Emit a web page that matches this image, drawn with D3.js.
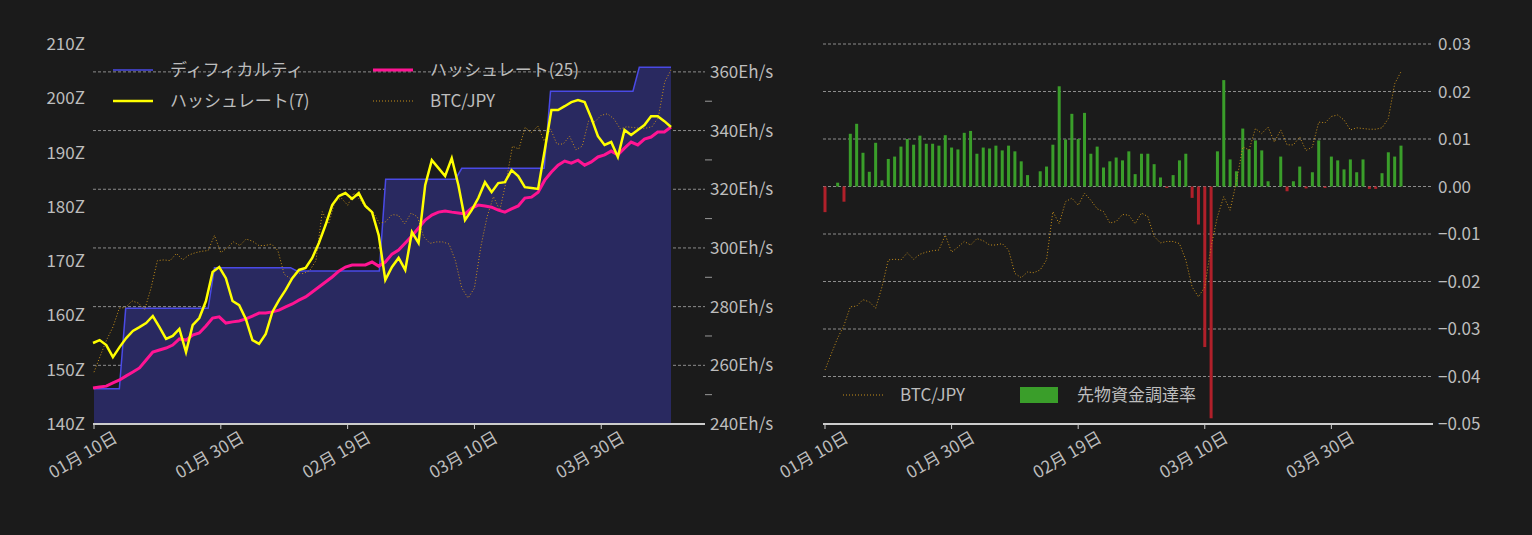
<!DOCTYPE html><html><head><meta charset="utf-8">
<script src="https://cdn.jsdelivr.net/npm/d3@7/dist/d3.min.js"></script>
<style>body{margin:0;background:#1b1b1b}text{font-family:"Noto Sans CJK JP","Noto Sans",sans-serif}</style></head><body>
<svg id="c" width="1532" height="535"></svg>
<script>
const xTickLabels=["01月 10日","01月 30日","02月 19日","03月 10日","03月 30日"];
const xTickDates=["2024-01-10","2024-01-30","2024-02-19","2024-03-10","2024-03-30"];
const startDate="2024-01-10", endDate="2024-04-10";
const diffDates=["2024-01-10","2024-01-14","2024-01-15","2024-01-28","2024-01-29","2024-02-10","2024-02-11","2024-02-24","2024-02-25","2024-03-07","2024-03-08","2024-03-21","2024-03-22","2024-04-04","2024-04-05","2024-04-10"];
const difficulty=[146.5,146.5,161.3,161.3,168.8,168.8,168.2,168.2,185.1,185.1,187.1,187.1,201.3,201.3,205.7,205.7];
const hash7=[267.6,268.6,266.9,262.8,266.2,269.3,271.7,273.0,274.4,276.8,273.0,269.0,270.0,272.4,264.5,273.7,276.1,281.9,291.8,293.5,289.7,281.9,280.5,275.8,268.6,267.3,270.7,278.2,282.2,285.7,289.7,292.5,293.2,296.6,301.7,307.8,314.6,317.7,318.7,316.7,318.7,314.3,312.2,304.4,289.1,293.5,296.6,292.5,305.4,301.7,321.4,329.9,327.2,324.5,330.6,321.4,309.5,312.9,317.0,322.4,319.0,322.1,322.4,326.5,324.5,320.7,320.4,320.1,333.4,347.0,347.0,348.3,349.7,350.4,349.7,344.3,338.1,335.1,336.1,331.0,340.2,338.5,340.2,341.9,344.9,344.9,343.2,341.2];
const hash25=[252.3,252.6,252.9,254.0,255.0,256.4,257.7,259.1,261.8,264.5,265.2,265.9,266.9,269.0,268.6,270.3,271.0,273.4,276.1,276.5,274.4,274.8,275.1,275.8,276.8,277.8,277.8,278.2,278.8,279.9,280.9,282.2,283.3,285.0,286.7,288.4,290.1,292.1,293.5,294.2,294.2,294.2,295.2,293.8,295.2,297.9,299.3,301.7,304.1,306.8,309.5,311.2,312.2,312.6,312.2,311.9,311.6,313.6,314.6,314.3,313.9,312.9,312.2,313.3,314.3,317.0,317.3,319.0,323.1,325.9,328.2,329.6,328.9,329.9,328.2,329.3,331.0,331.7,333.0,331.7,334.0,336.1,335.1,337.1,337.8,339.5,339.5,341.2];
const btc=[660,683,705,723,749,750,759,756,747,777,815,816,815,825,816,823,826,828,829,850,826,833,841,836,845,842,836,836,838,829,796,790,798,797,801,815,883,866,897,902,892,909,899,887,883,867,869,879,878,866,881,876,848,839,841,841,838,815,777,763,777,834,876,904,885,925,974,970,1000,993,1002,981,998,977,977,988,969,974,1009,1008,1017,1019,1012,998,1001,1000,999,999,1001,1014,1063,1080];
const funding=[-0.0054,0,0.0008,-0.0032,0.0111,0.0132,0.0071,0.0031,0.0092,0.0013,0.0058,0.0063,0.0084,0.0100,0.0088,0.0107,0.0090,0.0090,0.0086,0.0108,0.0082,0.0078,0.0113,0.0117,0.0069,0.0082,0.0080,0.0086,0.0076,0.0086,0.0074,0.0053,0.0024,0,0.0032,0.0042,0.0088,0.0211,0.0099,0.0153,0.0100,0.0155,0.0069,0.0084,0.0040,0.0053,0.0061,0.0055,0.0074,0.0026,0.0069,0.0069,0.0047,0.0019,-0.0003,0.0024,0.0055,0.0069,-0.0024,-0.0080,-0.0338,-0.0488,0.0074,0.0224,0.0057,0.0032,0.0122,0.0078,0.0097,0.0076,0.0011,0,0.0063,-0.0010,0.0011,0.0042,-0.0004,0.0030,0.0097,-0.0003,0.0063,0.0055,0.0036,0.0057,0.0030,0.0057,-0.0005,-0.0005,0.0028,0.0072,0.0063,0.0086];
const leftTicks=[140,150,160,170,180,190,200,210];
const hashTicks=[240,260,280,300,320,340,360];
const fundTicks=[0.03,0.02,0.01,0,-0.01,-0.02,-0.03,-0.04,-0.05];

const P=d3.timeParse("%Y-%m-%d");
const dates=btc.map((_,i)=>d3.timeDay.offset(P(startDate),i));
const svg=d3.select("#c"), TXT="#bdbdbd", FS=17;
const yTop=44,bot=424;
function xAxis(x){
  xTickDates.forEach((d,i)=>{const px=x(P(d));
    svg.append("line").attr("x1",px).attr("x2",px).attr("y1",bot).attr("y2",bot+5).attr("stroke","#ccc");
    svg.append("text").attr("transform",`translate(${px-8},${bot+36}) rotate(-30)`).attr("text-anchor","middle").attr("fill",TXT).attr("font-size",FS).text(xTickLabels[i]);});
}
// LEFT
const xL=d3.scaleTime().domain([P(startDate),P(endDate)]).range([94,671]);
const xI=d3.scaleLinear().domain([0,hash7.length-1]).range([93,671]);
const yD=d3.scaleLinear().domain([140,210]).range([bot,yTop]);
const yH=d3.scaleLinear().domain([240,369.5]).range([bot,yTop]);
const yB=d3.scaleLinear().domain([588,1116]).range([bot,yTop]);
hashTicks.forEach(t=>{svg.append("line").attr("x1",93).attr("x2",705).attr("y1",yH(t)).attr("y2",yH(t)).attr("stroke","#aaa").attr("stroke-width",0.8).attr("stroke-dasharray","3,2");});
d3.range(250,370,20).forEach(t=>svg.append("line").attr("x1",705).attr("x2",712).attr("y1",yH(t)).attr("y2",yH(t)).attr("stroke","#999"));
const dPts=diffDates.map((d,i)=>[xL(P(d)),yD(difficulty[i])]);
svg.append("path").attr("d",d3.area().x(d=>d[0]).y0(bot).y1(d=>d[1])(dPts)).attr("fill","#292960");
svg.append("path").attr("d",d3.line()(dPts)).attr("fill","none").attr("stroke","#4a4ae6").attr("stroke-width",1.5);
svg.append("path").attr("d",d3.line().x((d,i)=>xL(dates[i])).y(d=>yB(d))(btc)).attr("fill","none").attr("stroke","#c8901a").attr("stroke-width",1).attr("stroke-dasharray","1,2");
svg.append("path").attr("d",d3.line().x((d,i)=>xI(i)).y(d=>yH(d))(hash25)).attr("fill","none").attr("stroke","#ff1493").attr("stroke-width",3);
svg.append("path").attr("d",d3.line().x((d,i)=>xI(i)).y(d=>yH(d))(hash7)).attr("fill","none").attr("stroke","#ffff00").attr("stroke-width",2.5);
svg.append("line").attr("x1",93).attr("x2",705).attr("y1",bot).attr("y2",bot).attr("stroke","#ccc").attr("stroke-width",2);
leftTicks.forEach(t=>svg.append("text").attr("x",85).attr("y",yD(t)+6).attr("text-anchor","end").attr("fill",TXT).attr("font-size",FS).text(t+"Z"));
hashTicks.forEach(t=>svg.append("text").attr("x",710).attr("y",yH(t)+6).attr("fill",TXT).attr("font-size",FS).text(t+"Eh/s"));
xAxis(xL);
function leg(x,y,color,w,dash,label){svg.append("line").attr("x1",x).attr("x2",x+40).attr("y1",y).attr("y2",y).attr("stroke",color).attr("stroke-width",w).attr("stroke-dasharray",dash);
  svg.append("text").attr("x",x+57).attr("y",y+6).attr("fill",TXT).attr("font-size",FS).text(label);}
leg(113,70,"#4a4ae6",1.5,null,"ディフィカルティ");
leg(373,70,"#ff1493",3,null,"ハッシュレート(25)");
leg(113,101,"#ffff00",2.5,null,"ハッシュレート(7)");
leg(373,101,"#c8901a",1,"1,2","BTC/JPY");
// RIGHT
const xR=d3.scaleTime().domain([P(startDate),P(endDate)]).range([825,1401]);
const yF=d3.scaleLinear().domain([-0.05,0.03]).range([bot,yTop]);
const yB2=d3.scaleLinear().domain([584,1119]).range([bot,yTop]);
const fmt=d3.format(".2f");
fundTicks.forEach(t=>{ if(t>-0.05) svg.append("line").attr("x1",823).attr("x2",1433).attr("y1",yF(t)).attr("y2",yF(t)).attr("stroke","#aaa").attr("stroke-width",0.8).attr("stroke-dasharray","3,2");
  svg.append("text").attr("x",1438).attr("y",yF(t)+6).attr("fill",TXT).attr("font-size",FS).text(fmt(t));});
svg.selectAll(".bar").data(funding).enter().append("rect").attr("x",(d,i)=>xR(dates[i])-1.5).attr("width",3)
  .attr("y",d=>d>=0?yF(d):yF(0)).attr("height",d=>Math.abs(yF(d)-yF(0))).attr("fill",d=>d>=0?"#3a9e2a":"#b0202a");
svg.append("path").attr("d",d3.line().x((d,i)=>xR(dates[i])).y(d=>yB2(d))(btc)).attr("fill","none").attr("stroke","#c8901a").attr("stroke-width",1).attr("stroke-dasharray","1,2");
svg.append("line").attr("x1",823).attr("x2",1433).attr("y1",bot).attr("y2",bot).attr("stroke","#ccc").attr("stroke-width",2);
xAxis(xR);
leg(843,395,"#c8901a",1,"1,2","BTC/JPY");
svg.append("rect").attr("x",1020).attr("y",387).attr("width",38).attr("height",16).attr("fill","#3a9e2a");
svg.append("text").attr("x",1077).attr("y",401).attr("fill",TXT).attr("font-size",FS).text("先物資金調達率");
</script></body></html>
